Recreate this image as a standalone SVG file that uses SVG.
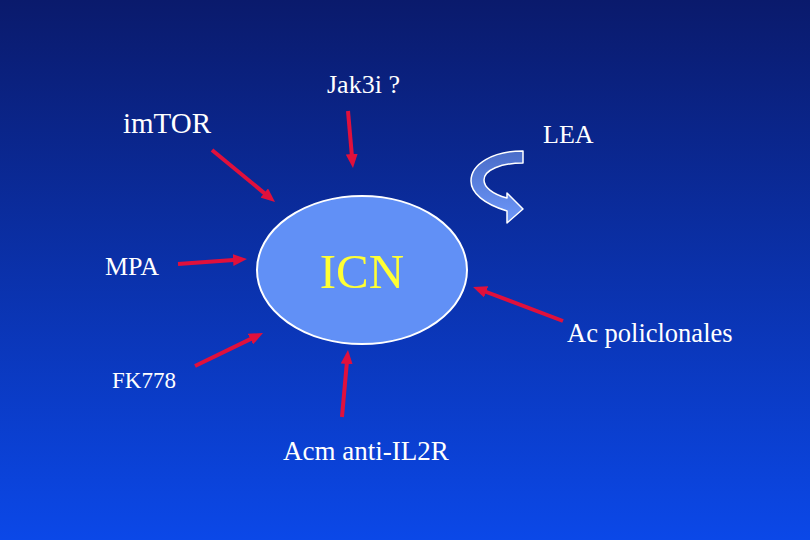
<svg xmlns="http://www.w3.org/2000/svg" width="810" height="540" viewBox="0 0 810 540">
<defs>
<linearGradient id="bg" x1="0" y1="0" x2="0" y2="1">
<stop offset="0" stop-color="#0a1a6c"/>
<stop offset="1" stop-color="#0b48e8"/>
</linearGradient>
<linearGradient id="curv" x1="0" y1="0" x2="0" y2="1">
<stop offset="0" stop-color="#4a6cc8"/>
<stop offset="1" stop-color="#6e98fa"/>
</linearGradient>
<marker id="ah" viewBox="0 0 14 12" markerWidth="14" markerHeight="12" refX="4" refY="6" orient="auto" markerUnits="userSpaceOnUse">
<path d="M0,0 L14,6 L0,12 z" fill="#e0103c"/>
</marker>
</defs>
<style>
.lbl{font-family:"Liberation Serif","Times New Roman",serif;fill:#ffffff;font-size:26px}
.conn line{stroke:#e0103c;stroke-width:4;marker-end:url(#ah)}
</style>
<rect x="0" y="0" width="810" height="540" fill="url(#bg)"/>
<g id="icn">
<ellipse cx="362" cy="270" rx="105" ry="74" fill="#6190f6" stroke="#ffffff" stroke-width="2"/>
<text x="362" y="288" text-anchor="middle" font-family="Liberation Serif, serif" font-size="49" fill="#ffff33">ICN</text>
</g>
<g id="jak3i"><text class="lbl" x="327" y="93">Jak3i ?</text></g>
<g id="imtor"><text class="lbl" x="123" y="133" style="font-size:29px">imTOR</text></g>
<g id="lea"><text class="lbl" x="543" y="143">LEA</text>
<path d="M523,151 C493,151 471,164 471,181 C471,193 484,204 507,211 L507,223 L523,209 L507,193 L507,198 C492,194 484,187 484,180 C484,170 501,163 523,163 Z" fill="url(#curv)" stroke="#ffffff" stroke-width="1.5" stroke-linejoin="round"/>
</g>
<g id="mpa"><text class="lbl" x="105" y="275">MPA</text></g>
<g id="fk778"><text class="lbl" x="112" y="388" style="font-size:23px">FK778</text></g>
<g id="acm"><text class="lbl" x="283" y="460" style="font-size:27px">Acm anti-IL2R</text></g>
<g id="acpoli"><text class="lbl" x="567" y="342" style="font-size:26.5px">Ac policlonales</text></g>
<g id="connectors" class="conn">
<line x1="212" y1="150" x2="267.3" y2="195.6"/>
<line x1="348" y1="111" x2="352.1" y2="158"/>
<line x1="178" y1="264" x2="237" y2="259.7"/>
<line x1="195" y1="366" x2="254" y2="337.4"/>
<line x1="342" y1="417" x2="347.1" y2="360"/>
<line x1="563" y1="321" x2="482.4" y2="290.5"/>
</g>
</svg>
